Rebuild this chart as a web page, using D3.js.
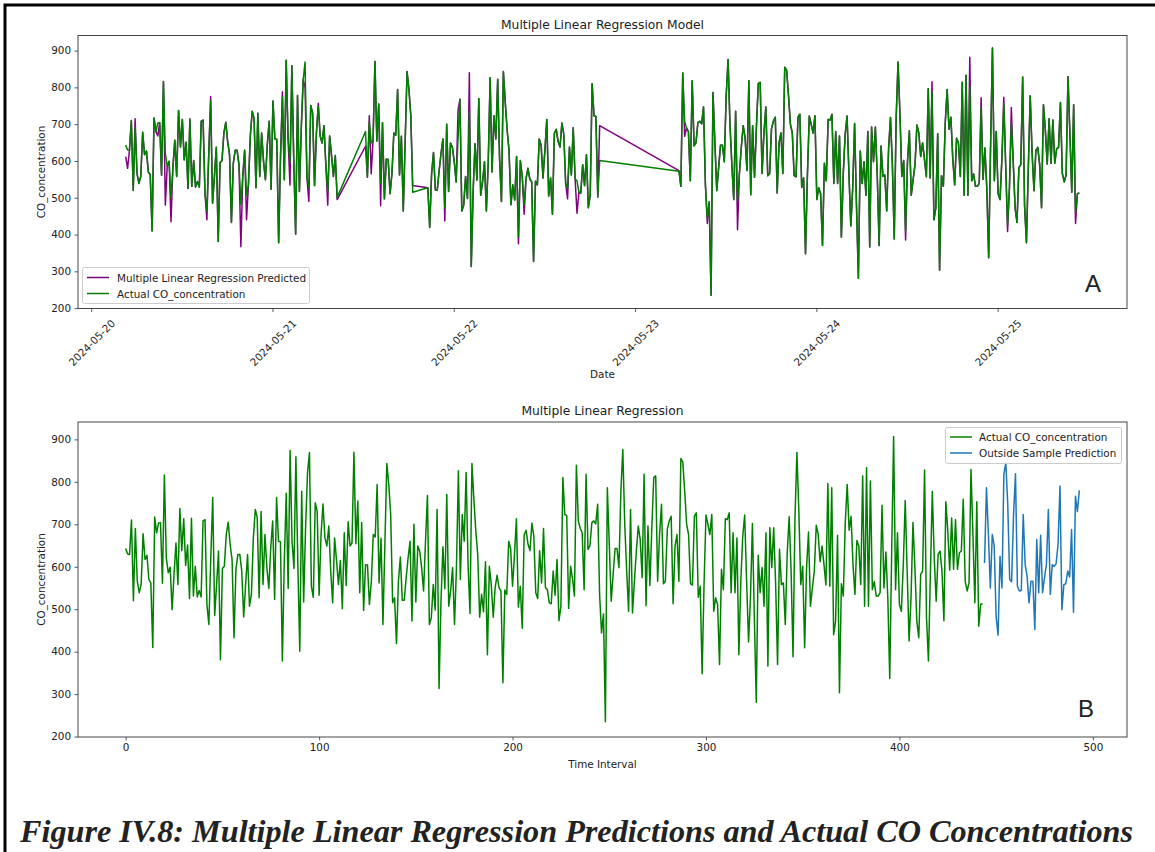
<!DOCTYPE html>
<html><head><meta charset="utf-8">
<script src="https://cdn.jsdelivr.net/npm/d3@7"></script>
<style>
body{margin:0;background:#fff}
svg text{font-family:"DejaVu Sans",sans-serif;fill:#222}
</style>
</head><body><svg id="c" width="1155" height="852"></svg>
<script>
// ---------------- data ----------------
const actual = [
643,630,629,710,520,690,566,539,558,678,617,627,570,562,410,717,680,703,704,561,
816,621,586,599,499,582,656,558,737,638,713,603,651,525,714,531,601,529,544,529,
708,711,511,464,621,763,485,558,637,381,596,601,676,705,653,617,433,594,629,629,
590,482,558,629,507,535,668,735,715,527,730,558,676,598,549,645,708,523,763,660,
659,378,613,773,549,874,660,596,859,605,401,778,517,692,821,869,554,528,751,730,
533,676,748,668,649,696,590,515,668,615,558,615,501,680,556,706,649,656,870,654,
755,539,704,497,605,604,511,566,676,670,794,562,667,464,653,843,794,723,515,527,
419,566,623,521,521,574,621,660,472,700,517,649,637,598,543,660,768,464,480,558,
498,735,313,519,647,548,770,507,543,598,464,598,826,570,723,660,822,605,490,843,
760,684,629,481,535,494,612,393,601,558,481,551,580,551,543,327,545,535,660,643,
554,629,713,505,554,455,675,686,653,638,703,672,539,525,638,562,690,551,546,515,
513,590,533,617,473,507,810,723,721,502,601,572,531,839,708,690,680,546,818,641,
649,704,708,701,747,535,444,489,235,786,653,519,582,643,643,598,778,876,700,590,
495,735,491,566,637,696,664,574,818,508,696,556,692,810,814,566,676,747,560,566,
688,708,719,513,649,676,566,855,847,778,700,676,560,557,719,727,528,554,348,560,
722,700,676,723,495,527,511,370,594,546,713,711,727,539,680,539,668,393,566,672,
722,566,423,527,702,480,281,627,539,598,507,680,366,692,598,692,560,370,641,558,
562,464,633,718,590,388,715,869,731,558,601,409,598,682,507,550,590,698,676,612,
649,605,557,796,554,786,440,472,674,303,560,531,704,794,686,719,605,535,662,649,
558,814,507,833,507,802,546,565,531,531,539,745,550,635,527,337,637,907,546,680,
511,495,605,756,590,425,527,704,598,472,433,582,590,828,480,378,582,777,621,519,
629,637,590,473,753,684,592,715,594,711,594,633,637,759,566,543,562,829,676,515,
753,460,511,513
];
const outsidePrediction = [
609,786,676,550,676,649,481,439,625,550,818,845,747,570,565,723,819,554,543,544,
723,605,578,515,566,566,452,664,539,674,539,574,607,735,535,605,601,607,653,790,
499,558,560,590,576,688,493,766,730,780
];
const outsideStartIndex = 444;
// [index, predicted value] where the model prediction differs visibly from the actual value
const predictedOverrides = [
[0,612],[1,580],[5,715],[17,668],[21,480],[24,435],[43,440],[45,775],[61,367],[64,440],
[83,788],[87,535],[95,800],[97,490],[102,757],[107,480],[112,495],[113,640],[115,723],[116,565],
[121,478],[138,533],[148,437],[155,738],[161,840],[187,375],[190,455],[213,497],[218,458],[230,696],
[231,574],[234,667],[246,430],[262,413],[351,385],[365,815],[385,882],[391,772],[403,773],[405,408],
[407,745],[441,430]
];
// recording segments (15-minute sampling)
const segmentStarts = ["2024-05-20T04:30","2024-05-21T12:15","2024-05-21T20:30","2024-05-23T05:45"];
const segmentCounts = [113, 26, 92, 213];
const dateTicks = ["2024-05-20","2024-05-21","2024-05-22","2024-05-23","2024-05-24","2024-05-25"];
const indexTicks = [0,100,200,300,400,500];
const yTicks = [200,300,400,500,600,700,800,900];

// ---------------- derived ----------------
const parseT = d3.utcParse("%Y-%m-%dT%H:%M");
const parseD = d3.utcParse("%Y-%m-%d");
const times = [];
segmentStarts.forEach((s, k) => {
  const t0 = parseT(s).getTime();
  for (let j = 0; j < segmentCounts[k]; j++) times.push(new Date(t0 + j * 15 * 60000));
});
const predicted = actual.slice();
predictedOverrides.forEach(([i, v]) => predicted[i] = v);

const svg = d3.select("#c");
const GREEN = "#008000", PURPLE = "#800080", BLUE = "#1f77b4";
const L = 78, R = 1127;
const FS = "10.4px", FT = "12.3px";

// outer frame
svg.append("path").attr("d", "M5,852 V5 H1155").attr("fill","none").attr("stroke","#000").attr("stroke-width",3);

function yAxis(g, y) {
  const ax = d3.axisLeft(y).tickValues(yTicks).tickSize(3.5).tickPadding(3.5);
  g.call(ax);
  g.select(".domain").remove();
  g.selectAll("line").attr("stroke","#333").attr("stroke-width",0.8);
  g.selectAll("text").style("font-size",FS).attr("fill","#222");
}

// ---------------- chart A ----------------
const TA = 35.5, BA = 308.5;
const tMin = times[0].getTime(), tMax = times[times.length-1].getTime(), span = tMax - tMin;
const xA = d3.scaleUtc().domain([new Date(tMin - 0.05*span), new Date(tMax + 0.05*span)]).range([L, R]);
const yA = d3.scaleLinear().domain([199, 941]).range([BA, TA]);
const gA = svg.append("g");
const lineA = (arr) => d3.line().x((d,i)=>xA(times[i])).y(d=>yA(d))(arr);
gA.append("path").attr("d", lineA(predicted)).attr("fill","none").attr("stroke",PURPLE).attr("stroke-width",1.5).attr("stroke-linejoin","round");
gA.append("path").attr("d", lineA(actual)).attr("fill","none").attr("stroke",GREEN).attr("stroke-width",1.5).attr("stroke-linejoin","round");
gA.append("rect").attr("x",L).attr("y",TA).attr("width",R-L).attr("height",BA-TA).attr("fill","none").attr("stroke","#333").attr("stroke-width",0.9);
yAxis(gA.append("g").attr("transform",`translate(${L},0)`), yA);
const xAx = gA.append("g");
dateTicks.forEach(s => {
  const x = xA(parseD(s));
  xAx.append("line").attr("x1",x).attr("x2",x).attr("y1",BA).attr("y2",BA+3.5).attr("stroke","#333").attr("stroke-width",0.8);
  xAx.append("text").attr("transform",`translate(${x},${BA+34}) rotate(-45)`).attr("text-anchor","middle").attr("dominant-baseline","central").style("font-size",FS).text(s);
});
gA.append("text").attr("x",(L+R)/2).attr("y",29).attr("text-anchor","middle").style("font-size",FT).text("Multiple Linear Regression Model");
gA.append("text").attr("x",(L+R)/2).attr("y",378).attr("text-anchor","middle").style("font-size",FS).text("Date");
gA.append("text").attr("transform",`translate(45,${(TA+BA)/2}) rotate(-90)`).attr("text-anchor","middle").style("font-size",FS).text("CO_concentration");
gA.append("text").attr("x",1093).attr("y",292).attr("text-anchor","middle").style("font-family","'Liberation Sans',Arial,sans-serif").style("font-size","24px").attr("fill","#000").text("A");
// legend A
const legA = gA.append("g");
legA.append("rect").attr("x",82.5).attr("y",267.5).attr("width",227).attr("height",36).attr("rx",2).attr("fill","#fff").attr("fill-opacity",0.8).attr("stroke","#ccc");
[["Multiple Linear Regression Predicted",PURPLE],["Actual CO_concentration",GREEN]].forEach(([t,c],k)=>{
  const y = 277.5 + k*16;
  legA.append("line").attr("x1",87).attr("x2",109).attr("y1",y).attr("y2",y).attr("stroke",c).attr("stroke-width",1.5);
  legA.append("text").attr("x",117).attr("y",y).attr("dominant-baseline","central").style("font-size",FS).text(t);
});

// ---------------- chart B ----------------
const TB = 422, BB = 737;
const nTotal = outsideStartIndex + outsidePrediction.length - 1;
const xB = d3.scaleLinear().domain([-0.05*nTotal, nTotal*1.05]).range([L, R]);
const yB = d3.scaleLinear().domain([199, 941]).range([BB, TB]);
const gB = svg.append("g");
gB.append("path").attr("d", d3.line().x((d,i)=>xB(i)).y(d=>yB(d))(actual)).attr("fill","none").attr("stroke",GREEN).attr("stroke-width",1.5).attr("stroke-linejoin","round");
gB.append("path").attr("d", d3.line().x((d,i)=>xB(outsideStartIndex+i)).y(d=>yB(d))(outsidePrediction)).attr("fill","none").attr("stroke",BLUE).attr("stroke-width",1.5).attr("stroke-linejoin","round");
gB.append("rect").attr("x",L).attr("y",TB).attr("width",R-L).attr("height",BB-TB).attr("fill","none").attr("stroke","#333").attr("stroke-width",0.9);
yAxis(gB.append("g").attr("transform",`translate(${L},0)`), yB);
const xBx = gB.append("g").attr("transform",`translate(0,${BB})`)
  .call(d3.axisBottom(xB).tickValues(indexTicks).tickSize(3.5).tickPadding(3.5));
xBx.select(".domain").remove();
xBx.selectAll("line").attr("stroke","#333").attr("stroke-width",0.8);
xBx.selectAll("text").style("font-size",FS).attr("fill","#222");
gB.append("text").attr("x",(L+R)/2).attr("y",415).attr("text-anchor","middle").style("font-size",FT).text("Multiple Linear Regression");
gB.append("text").attr("x",(L+R)/2).attr("y",768).attr("text-anchor","middle").style("font-size",FS).text("Time Interval");
gB.append("text").attr("transform",`translate(45,${(TB+BB)/2}) rotate(-90)`).attr("text-anchor","middle").style("font-size",FS).text("CO_concentration");
gB.append("text").attr("x",1086).attr("y",717).attr("text-anchor","middle").style("font-family","'Liberation Sans',Arial,sans-serif").style("font-size","24px").attr("fill","#000").text("B");
const legB = gB.append("g");
legB.append("rect").attr("x",945.5).attr("y",427.5).attr("width",176).attr("height",36).attr("rx",2).attr("fill","#fff").attr("fill-opacity",0.8).attr("stroke","#ccc");
[["Actual CO_concentration",GREEN],["Outside Sample Prediction",BLUE]].forEach(([t,c],k)=>{
  const y = 437 + k*16;
  legB.append("line").attr("x1",950).attr("x2",972).attr("y1",y).attr("y2",y).attr("stroke",c).attr("stroke-width",1.5);
  legB.append("text").attr("x",979).attr("y",y).attr("dominant-baseline","central").style("font-size",FS).text(t);
});

// ---------------- caption ----------------
svg.append("text").attr("x",20).attr("y",842)
  .style("font-family","'Liberation Serif','Times New Roman',serif").style("font-weight","bold").style("font-style","italic").style("font-size","31px")
  .attr("fill","#000").attr("textLength",1113).attr("lengthAdjust","spacingAndGlyphs")
  .text("Figure IV.8: Multiple Linear Regression Predictions and Actual CO Concentrations");
</script></body></html>
